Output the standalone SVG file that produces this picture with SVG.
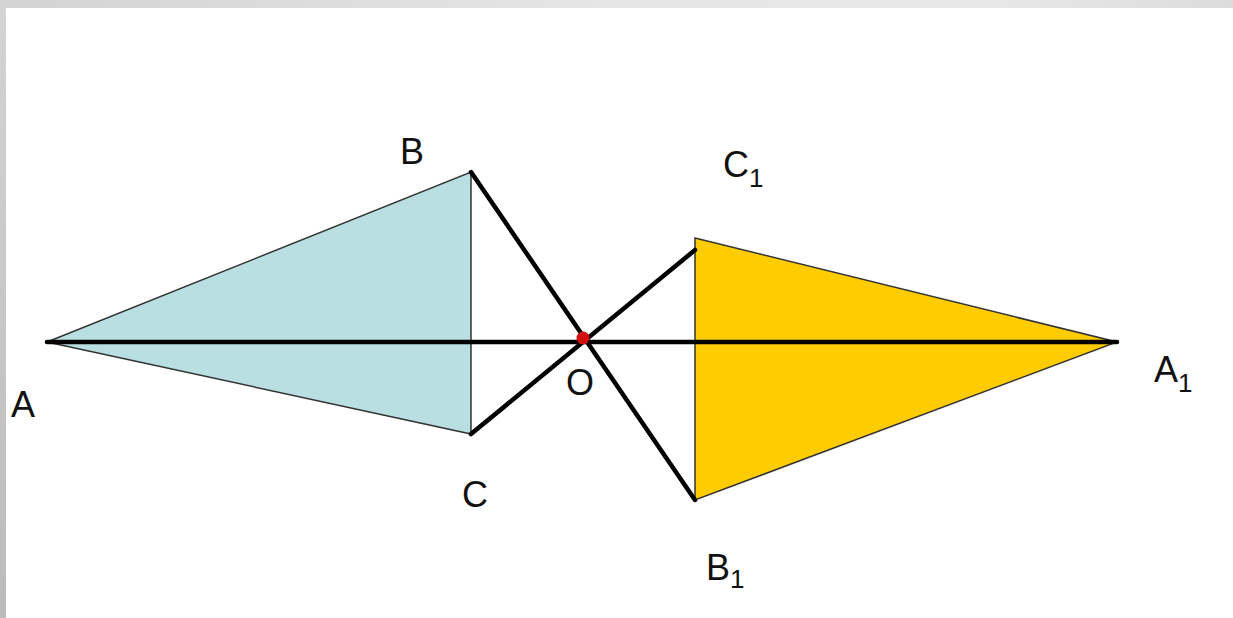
<svg xmlns="http://www.w3.org/2000/svg" width="1233" height="618" viewBox="0 0 1233 618">
<defs>
<linearGradient id="topg" x1="0" y1="0" x2="1" y2="0">
<stop offset="0" stop-color="#d3d3d3"/>
<stop offset="0.5" stop-color="#e6e6e6"/>
<stop offset="0.8" stop-color="#e8e8e8"/>
<stop offset="1" stop-color="#dcdcdc"/>
</linearGradient>
<linearGradient id="leftg" x1="0" y1="0" x2="0" y2="1">
<stop offset="0" stop-color="#d4d4d4"/>
<stop offset="1" stop-color="#bbbbbb"/>
</linearGradient>
</defs>
<style>
.lbl{font-family:"Liberation Sans",Arial,sans-serif;font-size:36px;fill:#111}
.sub{font-size:26px}
.tri{stroke:#333;stroke-width:1.5;stroke-linejoin:miter}
.thick{stroke:#000;stroke-width:4.5;stroke-linecap:round;fill:none}
</style>
<rect x="0" y="0" width="1233" height="618" fill="#ffffff"/>
<rect x="0" y="0" width="1233" height="8" fill="url(#topg)"/>
<rect x="0" y="0" width="6" height="618" fill="url(#leftg)"/>
<g id="triangle-ABC">
<polygon class="tri" points="47,342 471,172 471,434" fill="#b9dfe3"/>
</g>
<g id="triangle-A1B1C1">
<polygon class="tri" points="695,238 1117,342 695,500" fill="#ffcc00"/>
</g>
<g id="connectors">
<line class="thick" x1="47" y1="342" x2="1117" y2="342"/>
<line class="thick" x1="471" y1="172" x2="695" y2="500"/>
<line class="thick" x1="471" y1="434" x2="695" y2="250"/>
</g>
<g id="point-O">
<circle cx="583" cy="338" r="6.5" fill="#d10f0f"/>
</g>
<g id="labels">
<text class="lbl" x="400" y="164">B</text>
<text class="lbl" x="723" y="177">C<tspan class="sub" dy="10">1</tspan></text>
<text class="lbl" x="1154" y="382">A<tspan class="sub" dy="10">1</tspan></text>
<text class="lbl" x="11" y="417">A</text>
<text class="lbl" x="462" y="507">C</text>
<text class="lbl" x="566" y="395">O</text>
<text class="lbl" x="706" y="580">B<tspan class="sub" dy="8">1</tspan></text>
</g>
</svg>
